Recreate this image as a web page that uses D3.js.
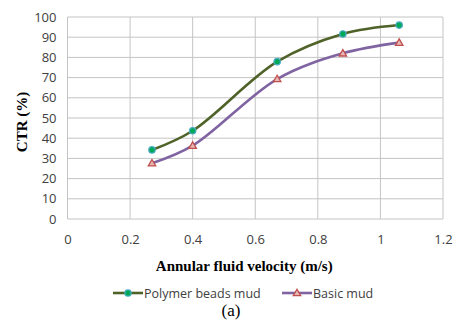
<!DOCTYPE html>
<html>
<head>
<meta charset="utf-8">
<script src="https://d3js.org/d3.v7.min.js"></script>
<style>
  body { margin: 0; background: #fff; }
  .tick text { font-family: "Open Sans", "Liberation Sans", sans-serif; font-size: 13px; fill: #404040; }
  .ttl { font-family: "Liberation Serif", "Times New Roman", serif; font-weight: bold; font-size: 15px; fill: #000; }
  .leg { font-family: "Open Sans", "Liberation Sans", sans-serif; font-size: 12.5px; fill: #404040; }
</style>
</head>
<body>
<svg id="chart" width="458" height="323"></svg>
<script>
// data
var velocity = [0.27, 0.4, 0.67, 0.88, 1.06];
var polymerMud = [34.2, 43.7, 77.9, 91.6, 96];
var basicMud = [27.6, 36.3, 69.3, 82, 87.3];
var xTicks = [0, 0.2, 0.4, 0.6, 0.8, 1, 1.2];
var yTicks = [0, 10, 20, 30, 40, 50, 60, 70, 80, 90, 100];

var svg = d3.select("#chart");
var pLeft = 67.5, pRight = 443, pTop = 17, pBottom = 219;

var x = d3.scaleLinear().domain([0, 1.2]).range([pLeft, pRight]);
var y = d3.scaleLinear().domain([0, 100]).range([pBottom, pTop]);

// gridlines
svg.append("g").selectAll("line").data(yTicks).enter().append("line")
  .attr("x1", pLeft).attr("x2", pRight)
  .attr("y1", function(d) { return y(d); }).attr("y2", function(d) { return y(d); })
  .attr("stroke", "#c4c4c4").attr("stroke-width", 1);
svg.append("g").selectAll("line").data(xTicks).enter().append("line")
  .attr("y1", pTop).attr("y2", pBottom)
  .attr("x1", function(d) { return x(d); }).attr("x2", function(d) { return x(d); })
  .attr("stroke", "#c4c4c4").attr("stroke-width", 1);

// axes (labels only)
var yAxis = svg.append("g").attr("transform", "translate(" + pLeft + ",0)")
  .call(d3.axisLeft(y).tickValues(yTicks).tickSize(0).tickPadding(11));
yAxis.select(".domain").remove();
var xAxis = svg.append("g").attr("transform", "translate(0," + pBottom + ")")
  .call(d3.axisBottom(x).tickValues(xTicks).tickSize(0).tickPadding(16)
    .tickFormat(function(d) { return d3.format("")(d); }));
xAxis.select(".domain").remove();

svg.append("text").attr("class", "ttl")
  .attr("transform", "translate(27," + ((pTop + pBottom) / 2 + 4) + ") rotate(-90)")
  .attr("text-anchor", "middle").text("CTR (%)");
svg.append("text").attr("class", "ttl")
  .attr("x", (pLeft + pRight) / 2 - 11).attr("y", 271)
  .attr("text-anchor", "middle").text("Annular fluid velocity (m/s)");

var line = d3.line()
  .x(function(d) { return x(d[0]); })
  .y(function(d) { return y(d[1]); })
  .curve(d3.curveCatmullRom.alpha(0.5));

var series = [
  { name: "Polymer beads mud", values: polymerMud, color: "#4f6228", marker: "circle" },
  { name: "Basic mud", values: basicMud, color: "#8064a2", marker: "triangle" }
];

function drawMarker(g, type, cx, cy) {
  if (type === "circle") {
    g.append("circle").attr("cx", cx).attr("cy", cy).attr("r", 3.2)
      .attr("fill", "#00a859").attr("stroke", "#4bacc6").attr("stroke-width", 1.2);
  } else {
    g.append("path").attr("d", d3.symbol().type(d3.symbolTriangle).size(24)())
      .attr("transform", "translate(" + cx + "," + (cy + 0.5) + ")")
      .attr("fill", "#e6b9b8").attr("stroke", "#c0504d").attr("stroke-width", 1.3);
  }
}

series.forEach(function(s) {
  var pts = velocity.map(function(v, i) { return [v, s.values[i]]; });
  svg.append("path").datum(pts).attr("d", line)
    .attr("fill", "none").attr("stroke", s.color).attr("stroke-width", 2.6);
  var g = svg.append("g");
  pts.forEach(function(p) { drawMarker(g, s.marker, x(p[0]), y(p[1])); });
});

// legend
var legX = [113, 282];
series.forEach(function(s, i) {
  var g = svg.append("g");
  g.append("line").attr("x1", legX[i]).attr("x2", legX[i] + 30)
    .attr("y1", 293).attr("y2", 293).attr("stroke", s.color).attr("stroke-width", 2.6);
  drawMarker(g, s.marker, legX[i] + 15, 293);
  g.append("text").attr("class", "leg").attr("x", legX[i] + 31).attr("y", 297.5).text(s.name);
});

svg.append("text").attr("x", 231).attr("y", 316).attr("text-anchor", "middle")
  .style("font-family", "Liberation Serif, serif").style("font-size", "17px").text("(a)");
</script>
</body>
</html>
